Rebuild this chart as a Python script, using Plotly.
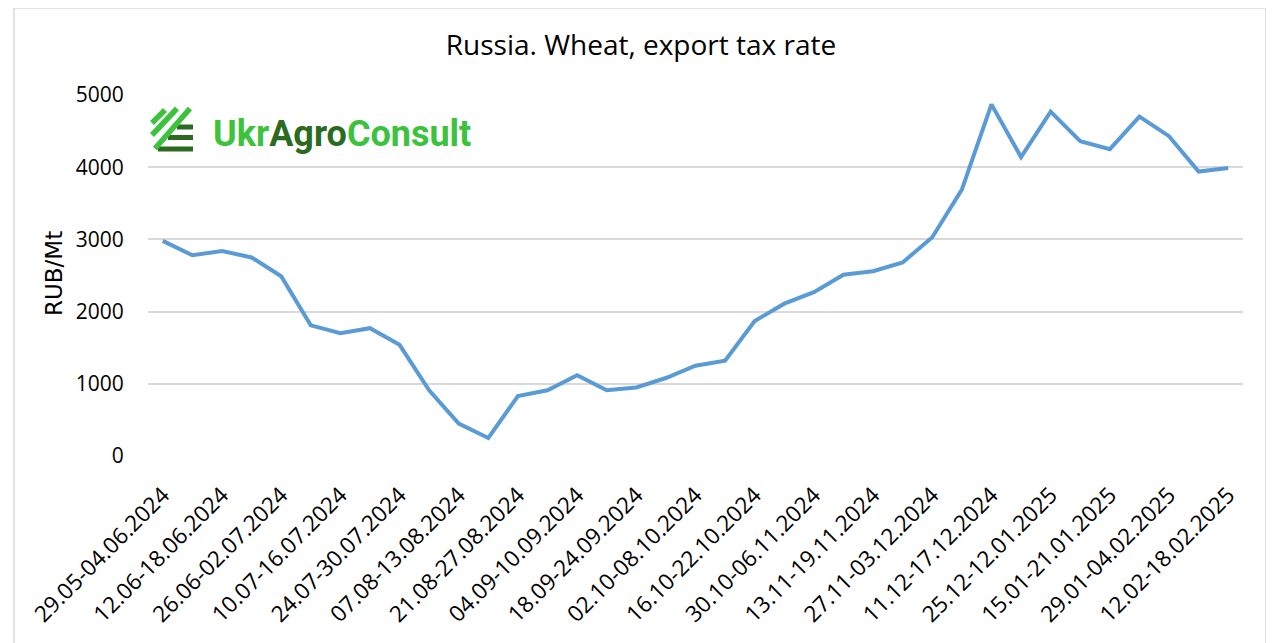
import plotly.graph_objects as go

# weekly periods of the wheat export duty
periods = [
    "29.05-04.06.2024", "05.06-11.06.2024", "12.06-18.06.2024", "19.06-25.06.2024",
    "26.06-02.07.2024", "03.07-09.07.2024", "10.07-16.07.2024", "17.07-23.07.2024",
    "24.07-30.07.2024", "31.07-06.08.2024", "07.08-13.08.2024", "14.08-20.08.2024",
    "21.08-27.08.2024", "28.08-03.09.2024", "04.09-10.09.2024", "11.09-17.09.2024",
    "18.09-24.09.2024", "25.09-01.10.2024", "02.10-08.10.2024", "09.10-15.10.2024",
    "16.10-22.10.2024", "23.10-29.10.2024", "30.10-06.11.2024", "07.11-12.11.2024",
    "13.11-19.11.2024", "20.11-26.11.2024", "27.11-03.12.2024", "04.12-10.12.2024",
    "11.12-17.12.2024", "18.12-24.12.2024", "25.12-12.01.2025", "13.01-14.01.2025",
    "15.01-21.01.2025", "22.01-28.01.2025", "29.01-04.02.2025", "05.02-11.02.2025",
    "12.02-18.02.2025",
]

# RUB per tonne
tax_rate = [
    2980, 2780, 2840, 2750, 2490, 1810, 1700, 1770, 1540, 910,
    450, 250, 830, 910, 1120, 910, 950, 1080, 1250, 1320,
    1870, 2110, 2270, 2510, 2560, 2680, 3030, 3690, 4870, 4140,
    4770, 4360, 4250, 4700, 4430, 3940, 3990,
]

y_ticks = [0, 1000, 2000, 3000, 4000, 5000]

# page body has an 8px margin, so the figure is drawn 8px in from the corner
OFF = 8
W, H = 1274 - OFF, 643 - OFF
L, R, T, B = 148 - OFF, 31, 95 - OFF, 187
pw, ph = W - L - R, H - T - B


def px(x):
    return (x - OFF - L) / pw


def py(y):
    return (H - B - (y - OFF)) / ph


fig = go.Figure()
fig.add_trace(
    go.Scatter(
        x=periods,
        y=tax_rate,
        mode="lines",
        line=dict(color="#5b9bd5", width=4),
        showlegend=False,
    )
)

shapes = []
# chart frame
for x0, y0, x1, y1 in [(14, 8, 1266, 8), (14, 8, 14, 660), (1266, 8, 1266, 660)]:
    shapes.append(dict(type="line", xref="paper", yref="paper",
                       x0=px(x0), y0=py(y0), x1=px(x1), y1=py(y1),
                       line=dict(color="#d9d9d9", width=1.5)))

# logo icon: dark bars then light diagonals
for y, xl in [(127, 177), (137.5, 168), (149, 158)]:
    shapes.append(dict(type="line", xref="paper", yref="paper",
                       x0=px(xl), y0=py(y), x1=px(193), y1=py(y),
                       line=dict(color="#2b6a20", width=5)))
for x0, y0, x1, y1 in [(152, 123, 165, 110), (152, 135, 177, 108.5), (155, 148.5, 190, 108.5)]:
    shapes.append(dict(type="line", xref="paper", yref="paper",
                       x0=px(x0), y0=py(y0), x1=px(x1), y1=py(y1),
                       line=dict(color="#3cc23c", width=5.5)))

annotations = [
    dict(
        text="RUB/Mt", textangle=-90, showarrow=False,
        xref="paper", yref="paper", x=px(54), y=py(274),
        xanchor="center", yanchor="middle",
        font=dict(family="DejaVu Sans", size=23, color="#000000"),
    ),
    dict(
        text="<span style='color:#3cc23c'>Ukr</span><span style='color:#2b6a20'>Agro</span>"
             "<span style='color:#3cc23c'>Consult</span>",
        showarrow=False, xref="paper", yref="paper",
        x=px(211), y=py(134), xanchor="left", yanchor="middle",
        font=dict(family="Roboto", size=36, weight="bold"),
    ),
]

fig.update_layout(
    width=W, height=H,
    margin=dict(l=L, r=R, t=T, b=B),
    paper_bgcolor="white", plot_bgcolor="white",
    title=dict(
        text="Russia. Wheat, export tax rate",
        x=(641 - OFF) / W, xanchor="center", y=1 - (45 - OFF) / H, yanchor="middle",
        font=dict(family="Open Sans", size=28, color="#000000"),
    ),
    xaxis=dict(
        type="category",
        range=[-0.5, len(periods) - 0.5],
        tickvals=periods[::2],
        ticktext=periods[::2],
        tickangle=-45,
        showgrid=False, zeroline=False, showline=False,
        ticks="outside", ticklen=16, tickcolor="rgba(0,0,0,0)",
        tickfont=dict(family="Open Sans", size=22.5, color="#000000"),
    ),
    yaxis=dict(
        range=[0, 5000],
        tickvals=y_ticks,
        showgrid=True, gridcolor="#d9d9d9", gridwidth=1.5,
        zeroline=False, showline=False,
        ticks="outside", ticklen=19, tickcolor="rgba(0,0,0,0)",
        tickfont=dict(family="Open Sans", size=21, color="#000000"),
    ),
    shapes=shapes,
    annotations=annotations,
)

fig.write_html("out.html")
